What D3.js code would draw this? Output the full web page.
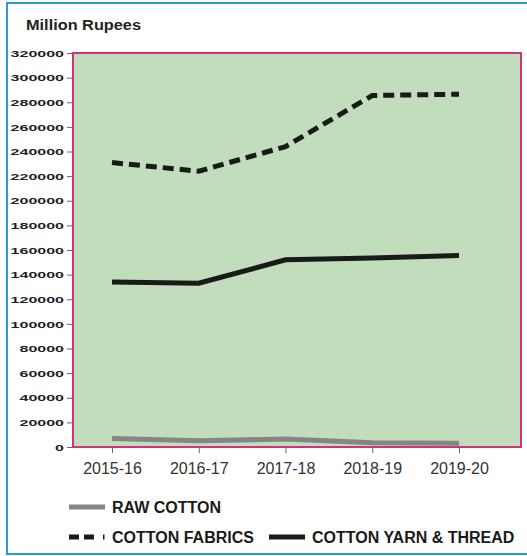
<!DOCTYPE html>
<html>
<head>
<meta charset="utf-8">
<script src="https://cdn.jsdelivr.net/npm/d3@7"></script>
<style>
  body { margin: 0; background: #fff; }
  text { font-family: "Liberation Sans", Arial, sans-serif; }
</style>
</head>
<body>
<script>
// chart data
const years = ["2015-16", "2016-17", "2017-18", "2018-19", "2019-20"];
const rawCotton = [7000, 5000, 6500, 3500, 3000];
const cottonFabrics = [231000, 224000, 244000, 285500, 286500];
const cottonYarn = [134000, 133000, 152000, 153600, 155500];
const yTicks = [0, 20000, 40000, 60000, 80000, 100000, 120000, 140000, 160000,
                180000, 200000, 220000, 240000, 260000, 280000, 300000, 320000];

const w = 527;
const h = 556;

let svg = d3.select("body")
            .append("svg")
            .attr("width", w)
            .attr("height", h);

// outer blue frame (right side runs off the picture)
svg.append("rect")
    .attr("x", 7).attr("y", 3)
    .attr("width", 530).attr("height", 551)
    .attr("fill", "none")
    .attr("stroke", "#2b9bd5")
    .attr("stroke-width", 2);

svg.append("text")
    .attr("x", 26).attr("y", 30)
    .attr("font-size", 14)
    .attr("font-weight", "bold")
    .attr("fill", "#222")
    .attr("textLength", 115)
    .attr("lengthAdjust", "spacingAndGlyphs")
    .text("Million Rupees");

const pLeft = 73, pRight = 521, pTop = 53, pBottom = 447;

let x = d3.scalePoint()
          .domain(years)
          .range([112, 459]);
let y = d3.scaleLinear()
          .domain([0, 320000])
          .range([pBottom, pTop]);

// plot area
svg.append("rect")
    .attr("x", pLeft).attr("y", pTop)
    .attr("width", pRight - pLeft).attr("height", pBottom - pTop)
    .attr("fill", "#c1ddbb")
    .attr("stroke", "#d4317c")
    .attr("stroke-width", 2);

// y axis
let yAxis = svg.append("g")
    .attr("transform", "translate(" + pLeft + ",0)")
    .call(d3.axisLeft(y).tickValues(yTicks).tickFormat(d3.format("d")).tickSize(6).tickPadding(3));
yAxis.select(".domain").remove();
yAxis.selectAll("line").attr("stroke", "#666");
yAxis.selectAll("text")
    .attr("font-family", "Liberation Sans, Arial, sans-serif")
    .attr("font-size", 9)
    .attr("font-weight", "bold")
    .attr("fill", "#222")
    .attr("dy", "0.35em")
    .attr("textLength", (d) => String(d).length * 8.9)
    .attr("lengthAdjust", "spacingAndGlyphs");

// x axis
let xAxis = svg.append("g")
    .attr("transform", "translate(0," + pBottom + ")")
    .call(d3.axisBottom(x).tickSize(6).tickPadding(10));
xAxis.select(".domain").remove();
xAxis.selectAll("line").attr("stroke", "#666");
xAxis.selectAll("text")
    .attr("font-family", "Liberation Sans, Arial, sans-serif")
    .attr("font-size", 16)
    .attr("fill", "#333");

let line = d3.line()
    .x((d, i) => x(years[i]))
    .y((d) => y(d));

svg.append("path")
    .datum(rawCotton)
    .attr("d", line)
    .attr("fill", "none")
    .attr("stroke", "#858585")
    .attr("stroke-width", 5);

svg.append("path")
    .datum(cottonFabrics)
    .attr("d", line)
    .attr("fill", "none")
    .attr("stroke", "#1a1a1a")
    .attr("stroke-width", 5)
    .attr("stroke-dasharray", "11,6");

svg.append("path")
    .datum(cottonYarn)
    .attr("d", line)
    .attr("fill", "none")
    .attr("stroke", "#1a1a1a")
    .attr("stroke-width", 5);

// legend
let legend = [
    {name: "RAW COTTON", color: "#858585", dash: null, x: 69, y: 507},
    {name: "COTTON FABRICS", color: "#1a1a1a", dash: "10,5,10,9,1.5,10", x: 69, y: 537},
    {name: "COTTON YARN & THREAD", color: "#1a1a1a", dash: null, x: 269, y: 537}
];
legend.forEach((l) => {
    svg.append("line")
        .attr("x1", l.x).attr("x2", l.x + 36)
        .attr("y1", l.y).attr("y2", l.y)
        .attr("stroke", l.color)
        .attr("stroke-width", 5)
        .attr("stroke-dasharray", l.dash);
    svg.append("text")
        .attr("x", l.x + 43).attr("y", l.y + 6)
        .attr("font-size", 16)
        .attr("font-weight", "bold")
        .attr("fill", "#1a1a1a")
        .text(l.name);
});
</script>
</body>
</html>
